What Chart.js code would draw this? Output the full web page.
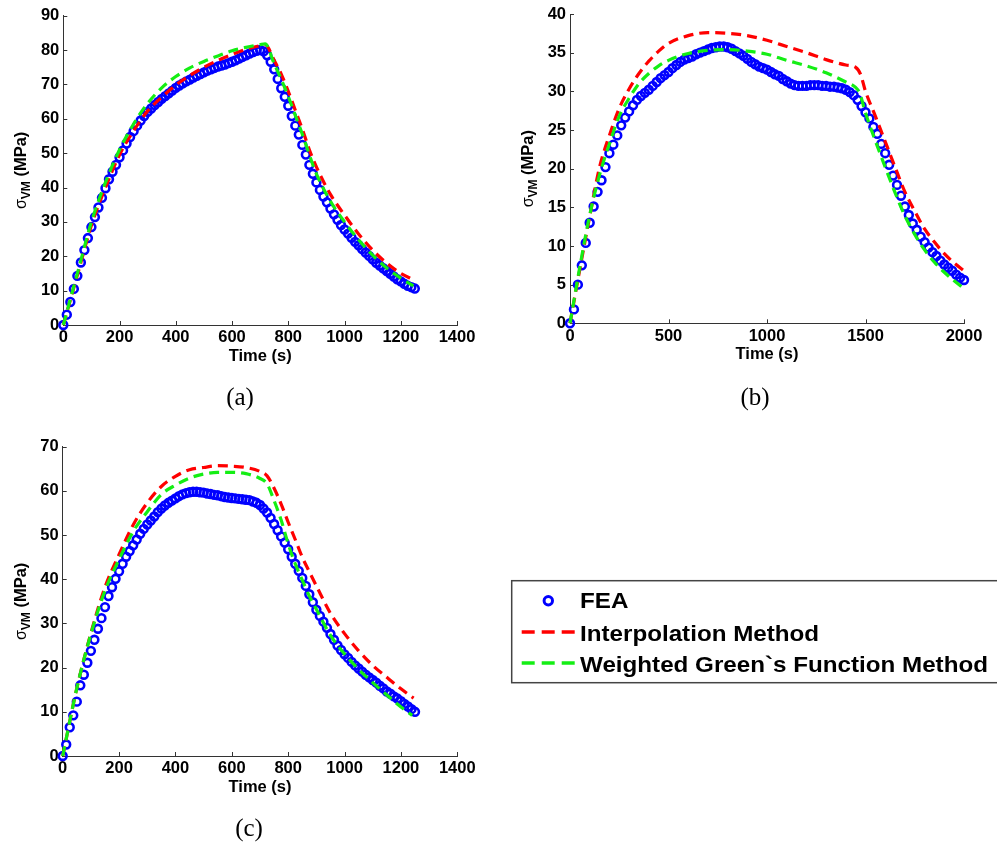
<!DOCTYPE html>
<html><head><meta charset="utf-8">
<script src="https://cdn.jsdelivr.net/npm/chart.js@4.4.1/dist/chart.umd.min.js"></script>
<style>
html,body{margin:0;padding:0;background:#fff;}
body{width:997px;height:847px;position:relative;overflow:hidden;}
canvas{position:absolute;}
#ov{position:absolute;left:0;top:0;}
</style></head><body>
<canvas id="cA" width="480" height="378" style="left:0px;top:0px"></canvas>
<canvas id="cB" width="497" height="378" style="left:500px;top:0px"></canvas>
<canvas id="cC" width="480" height="380" style="left:0px;top:430px"></canvas>
<svg id="ov" width="997" height="847" xmlns="http://www.w3.org/2000/svg"></svg>
<script>
// ---------- labels ----------
const seriesNames = ['FEA', 'Interpolation Method', 'Weighted Green`s Function Method'];
const xTitle = 'Time (s)';
const yTitleSym = 'σ', yTitleSub = 'VM', yTitleUnit = ' (MPa)';
const captions = ['(a)', '(b)', '(c)'];

// ---------- tick values ----------
const xTicksA = [0, 200, 400, 600, 800, 1000, 1200, 1400];
const yTicksA = [0, 10, 20, 30, 40, 50, 60, 70, 80, 90];
const xTicksB = [0, 500, 1000, 1500, 2000];
const yTicksB = [0, 5, 10, 15, 20, 25, 30, 35, 40];
const xTicksC = [0, 200, 400, 600, 800, 1000, 1200, 1400];
const yTicksC = [0, 10, 20, 30, 40, 50, 60, 70];

// ---------- (a) ----------
const feaTimeA = [0,12.5,25,37.5,50,62.5,75,87.5,100,112.5,125,137.5,150,162.5,175,187.5,200,212.5,225,237.5,250,262.5,275,287.5,300,312.5,325,337.5,350,362.5,375,387.5,400,412.5,425,437.5,450,462.5,475,487.5,500,512.5,525,537.5,550,562.5,575,587.5,600,612.5,625,637.5,650,662.5,675,687.5,700,712.5,725,737.5,750,762.5,775,787.5,800,812.5,825,837.5,850,862.5,875,887.5,900,912.5,925,937.5,950,962.5,975,987.5,1000,1012.5,1025,1037.5,1050,1062.5,1075,1087.5,1100,1112.5,1125,1137.5,1150,1162.5,1175,1187.5,1200,1212.5,1225,1237.5,1250];
const feaA = [0,3.0,6.7,10.5,14.3,18.2,21.8,25.3,28.5,31.4,34.2,37.0,39.8,42.4,44.6,46.6,48.8,50.8,52.8,54.7,56.4,58.0,59.5,60.8,62.0,63.0,64.0,64.9,65.8,66.6,67.4,68.2,69.0,69.7,70.3,70.9,71.4,72.0,72.5,73.0,73.5,74.0,74.4,74.8,75.2,75.5,75.8,76.2,76.6,77.0,77.5,78.0,78.5,79.0,79.4,79.8,80.0,79.6,78.5,76.6,74.4,71.6,68.9,66.4,63.8,60.8,58.0,55.4,52.4,49.6,46.6,44.0,41.5,39.3,37.4,35.7,33.9,32.2,30.6,29.1,27.8,26.6,25.4,24.2,23.2,22.1,21.1,20.1,19.1,18.1,17.3,16.5,15.7,14.9,14.1,13.3,12.7,12.0,11.4,11.0,10.6];
const interpTimeA = [0,50,100,150,200,250,300,350,400,450,500,550,600,650,700,718,750,775,800,825,850,875,900,950,1000,1050,1100,1150,1200,1245];
const interpA = [0,14.5,29,40,49.5,56.5,62.3,66.3,69.8,72.6,75,77,78.7,80.2,81.3,81.6,77,73,68,62.5,57,51,46,38,32,26.5,21.8,18,15,13.2];
const greenTimeA = [0,50,100,150,200,250,300,350,400,450,500,550,600,650,700,718,750,775,800,825,850,875,900,950,1000,1050,1100,1150,1200,1245];
const greenA = [0,15,30,41.5,51,58.5,64.5,69,72.3,74.8,76.7,78.3,79.8,80.8,81.6,81.8,76,71.5,66.5,61,55.5,49.5,44,36,30,24.8,20.3,16.6,13.6,11.4];

// ---------- (b) ----------
const feaTimeB = [0,20,40,60,80,100,120,140,160,180,200,220,240,260,280,300,320,340,360,380,400,420,440,460,480,500,520,540,560,580,600,620,640,660,680,700,720,740,760,780,800,820,840,860,880,900,920,940,960,980,1000,1020,1040,1060,1080,1100,1120,1140,1160,1180,1200,1220,1240,1260,1280,1300,1320,1340,1360,1380,1400,1420,1440,1460,1480,1500,1520,1540,1560,1580,1600,1620,1640,1660,1680,1700,1720,1740,1760,1780,1800,1820,1840,1860,1880,1900,1920,1940,1960,1980,2000];
const feaB = [0,1.8,5.0,7.5,10.4,13.0,15.1,17.0,18.5,20.2,22.0,23.1,24.3,25.6,26.6,27.4,28.2,28.9,29.4,29.8,30.2,30.7,31.2,31.7,32.1,32.5,33.0,33.4,33.8,34.1,34.3,34.5,34.8,35.0,35.2,35.4,35.6,35.7,35.8,35.8,35.7,35.5,35.2,34.9,34.6,34.2,33.8,33.5,33.2,33.0,32.8,32.5,32.2,32.0,31.6,31.3,31.0,30.8,30.7,30.7,30.7,30.8,30.8,30.8,30.7,30.7,30.6,30.6,30.5,30.4,30.2,29.9,29.5,28.9,28.1,27.3,26.5,25.4,24.5,23.2,22.0,20.5,19.1,17.9,16.5,15.1,14.0,12.9,12.1,11.2,10.5,9.8,9.2,8.7,8.1,7.6,7.2,6.8,6.3,5.9,5.6];
const interpTimeB = [0,50,100,150,200,250,300,350,400,450,500,600,700,800,900,1000,1100,1200,1300,1400,1450,1475,1500,1550,1600,1650,1700,1750,1800,1850,1900,1950,2000];
const interpB = [0,7,13.8,20.2,24.3,27.8,30.3,32.3,33.9,35.2,36.2,37.2,37.6,37.5,37.2,36.6,35.8,35,34.1,33.4,33.1,32.2,30,26.8,23.5,20.2,17,14.5,12.2,10.5,9,7.8,6.8];
const greenTimeB = [0,50,100,150,200,250,300,350,400,450,500,600,700,800,900,1000,1100,1200,1300,1400,1450,1470,1500,1550,1600,1650,1700,1750,1800,1850,1900,1950,2000];
const greenB = [0,7.3,14,19.2,23.2,26.8,29.1,31,32.3,33.3,34,34.9,35.3,35.4,35.2,34.8,34,33.3,32.4,31.2,30.5,29.8,27.2,23.6,20.2,16.9,13.9,11.5,9.5,7.9,6.6,5.5,4.5];

// ---------- (c) ----------
const feaTimeC = feaTimeA.slice();
const feaC = [0,2.6,6.5,9.2,12.3,16.0,18.4,21.1,23.8,26.3,28.8,31.2,33.7,36.2,38.2,40.1,41.8,43.5,45.1,46.4,47.7,49.0,50.3,51.4,52.4,53.3,54.2,55.2,56.0,56.7,57.3,57.8,58.3,58.8,59.2,59.5,59.7,59.8,59.8,59.7,59.6,59.4,59.3,59.1,59.0,58.8,58.6,58.5,58.4,58.3,58.2,58.1,58.0,57.9,57.6,57.3,56.8,56.0,55.1,53.9,52.5,51.1,49.7,48.3,46.8,45.1,43.5,41.9,40.3,38.5,36.6,34.8,33.1,31.7,30.4,29.0,27.6,26.3,25.0,24.0,23.0,22.2,21.3,20.5,19.8,19.1,18.4,17.8,17.2,16.6,15.9,15.3,14.6,14.1,13.5,13.0,12.4,11.8,11.2,10.6,10.0];
const interpTimeC = [0,50,100,150,200,250,300,350,400,450,500,550,600,650,700,725,750,775,800,825,850,875,900,950,1000,1050,1100,1150,1200,1245];
const interpC = [0,15.3,27.8,38.2,45.6,52.3,57.3,61,63.3,64.8,65.3,65.7,65.6,65.3,64.4,63.4,60.6,57,52.9,49,45,41.7,38.5,32.3,27.7,23.8,20.5,17.8,15.2,13.1];
const greenTimeC = [0,50,100,150,200,250,300,350,400,450,500,550,600,650,700,725,750,775,800,825,850,875,900,950,1000,1050,1100,1150,1200,1240];
const greenC = [0,15.3,27.6,37.4,44.5,50.8,55.3,59.2,61.3,62.9,63.8,64.2,64.2,63.9,62.8,61.6,57.8,53.4,48,43.5,39.8,36.2,33.2,27.3,23.1,19.6,16.6,13.8,11.1,9.2];

// ---------- style ----------
const FONT = "'Liberation Sans', Arial, Helvetica, sans-serif";
const AXIS_COLOR = '#333333';
const BLUE = '#0000ff', RED = '#ff0000', GREEN = '#14ee14';

const pts = (t, v) => t.map((x, i) => ({x: x, y: v[i]}));

const innerTicks = {
  id: 'innerTicks',
  beforeDatasetsDraw(chart) {
    const {ctx, scales: {x, y}} = chart;
    ctx.save();
    ctx.strokeStyle = AXIS_COLOR; ctx.lineWidth = 1;
    ctx.beginPath();
    x.ticks.forEach(t => { const p = Math.round(x.getPixelForValue(t.value)) + 0.5; ctx.moveTo(p, y.bottom); ctx.lineTo(p, y.bottom - 4); });
    y.ticks.forEach(t => { const p = Math.round(y.getPixelForValue(t.value)) + 0.5; ctx.moveTo(x.left, p); ctx.lineTo(x.left + 4, p); });
    ctx.stroke();
    ctx.restore();
  }
};

const yTitlePlugin = {
  id: 'yTitle',
  afterDraw(chart, args, o) {
    const {ctx, chartArea} = chart;
    const parts = [
      {t: yTitleSym, font: 'normal 16px ' + FONT, dy: 0},
      {t: yTitleSub, font: 'bold 12px ' + FONT, dy: 4},
      {t: yTitleUnit, font: 'bold 16.5px ' + FONT, dy: 0}
    ];
    ctx.save();
    let w = 0;
    parts.forEach(p => { ctx.font = p.font; p.w = ctx.measureText(p.t).width; w += p.w; });
    ctx.translate(chartArea.left - o.offset, (chartArea.top + chartArea.bottom) / 2);
    ctx.rotate(-Math.PI / 2);
    ctx.fillStyle = '#000'; ctx.textBaseline = 'alphabetic'; ctx.textAlign = 'left';
    let xx = -w / 2;
    parts.forEach(p => { ctx.font = p.font; ctx.fillText(p.t, xx, p.dy); xx += p.w; });
    ctx.restore();
  }
};

function makeChart(id, spec) {
  const cv = document.getElementById(id);
  const W = cv.width, H = cv.height;
  const a = spec.area;
  const xH = H - a.b;
  const tickFont = {family: FONT, size: 16.5, weight: 'bold'};
  return new Chart(cv, {
    type: 'line',
    data: {
      datasets: [
        {label: seriesNames[0], data: pts(spec.feaT, spec.fea), showLine: false, order: 3,
         pointStyle: 'circle', pointRadius: 3.9, pointBorderWidth: 2.6, pointBorderColor: BLUE,
         pointBackgroundColor: 'rgba(0,0,0,0)', borderColor: BLUE, clip: false},
        {label: seriesNames[1], data: pts(spec.redT, spec.red), order: 2, borderColor: RED, borderWidth: 3.2,
         borderDash: [10, 6], pointRadius: 0, fill: false, cubicInterpolationMode: 'monotone', clip: false},
        {label: seriesNames[2], data: pts(spec.greenT, spec.green), order: 1, borderColor: GREEN, borderWidth: 3.2,
         borderDash: [10, 6], pointRadius: 0, fill: false, cubicInterpolationMode: 'monotone', clip: false}
      ]
    },
    options: {
      responsive: false, animation: false, devicePixelRatio: 1,
      layout: {padding: {top: a.t, right: W - a.r, bottom: 0, left: 0}},
      plugins: {legend: {display: false}, tooltip: {enabled: false}, yTitle: {offset: 37}},
      scales: {
        x: {
          type: 'linear', min: spec.xTicks[0], max: spec.xTicks[spec.xTicks.length - 1],
          afterBuildTicks: s => { s.ticks = spec.xTicks.map(v => ({value: v})); },
          afterFit: s => { s.height = xH; s.paddingLeft = 0; s.paddingRight = 0; },
          grid: {display: false, drawTicks: false},
          border: {display: true, color: AXIS_COLOR, width: 1},
          ticks: {font: tickFont, color: '#000', padding: 3, autoSkip: false, maxRotation: 0, callback: v => String(v)},
          title: {display: true, text: xTitle, color: '#000', font: {family: FONT, size: 16.5, weight: 'bold', lineHeight: 1.2},
                  padding: {top: 0, bottom: xH - 31.5 - 9.9}}
        },
        y: {
          type: 'linear', min: spec.yTicks[0], max: spec.yTicks[spec.yTicks.length - 1],
          afterBuildTicks: s => { s.ticks = spec.yTicks.map(v => ({value: v})); },
          afterFit: s => { s.width = a.l; s.paddingTop = 0; s.paddingBottom = 0; },
          grid: {display: false, drawTicks: false},
          border: {display: true, color: AXIS_COLOR, width: 1},
          ticks: {font: tickFont, color: '#000', padding: 4, autoSkip: false, callback: v => String(v)}
        }
      }
    },
    plugins: [innerTicks, yTitlePlugin]
  });
}

makeChart('cA', {area: {l: 63.3, t: 15.7, r: 457, b: 325}, xTicks: xTicksA, yTicks: yTicksA,
  feaT: feaTimeA, fea: feaA, redT: interpTimeA, red: interpA, greenT: greenTimeA, green: greenA});
makeChart('cB', {area: {l: 70, t: 14, r: 464, b: 323.3}, xTicks: xTicksB, yTicks: yTicksB,
  feaT: feaTimeB, fea: feaB, redT: interpTimeB, red: interpB, greenT: greenTimeB, green: greenB});
makeChart('cC', {area: {l: 62.7, t: 16.7, r: 457.3, b: 326}, xTicks: xTicksC, yTicks: yTicksC,
  feaT: feaTimeC, fea: feaC, redT: interpTimeC, red: interpC, greenT: greenTimeC, green: greenC});

// ---------- captions + legend (SVG text) ----------
const NS = 'http://www.w3.org/2000/svg';
const svg = document.getElementById('ov');
function el(tag, attrs, text) {
  const e = document.createElementNS(NS, tag);
  for (const k in attrs) e.setAttribute(k, attrs[k]);
  if (text !== undefined) e.textContent = text;
  return e;
}
const capPos = [[240, 405], [755, 405], [249, 835.5]];
captions.forEach((c, i) => svg.appendChild(el('text', {x: capPos[i][0], y: capPos[i][1], 'text-anchor': 'middle',
  'font-family': "'Liberation Serif', 'Times New Roman', serif", 'font-size': 25, fill: '#000'}, c)));

svg.appendChild(el('rect', {x: 511.7, y: 580.7, width: 520, height: 102, fill: '#fff', stroke: '#444', 'stroke-width': 1.5}));
svg.appendChild(el('circle', {cx: 548.3, cy: 600.7, r: 4.2, fill: 'none', stroke: BLUE, 'stroke-width': 3}));
svg.appendChild(el('line', {x1: 521.7, y1: 632, x2: 575, y2: 632, stroke: RED, 'stroke-width': 3.5, 'stroke-dasharray': '13 7'}));
svg.appendChild(el('line', {x1: 521.7, y1: 663, x2: 575, y2: 663, stroke: GREEN, 'stroke-width': 3.5, 'stroke-dasharray': '13 7'}));
const lg = el('g', {transform: 'translate(580,0) scale(1.1,1)', 'font-family': FONT, 'font-weight': 'bold', 'font-size': 22, fill: '#000'});
const rowY = [608.3, 640.7, 671.7];
seriesNames.forEach((n, i) => lg.appendChild(el('text', {x: 0, y: rowY[i]}, n)));
svg.appendChild(lg);
</script>
</body></html>
